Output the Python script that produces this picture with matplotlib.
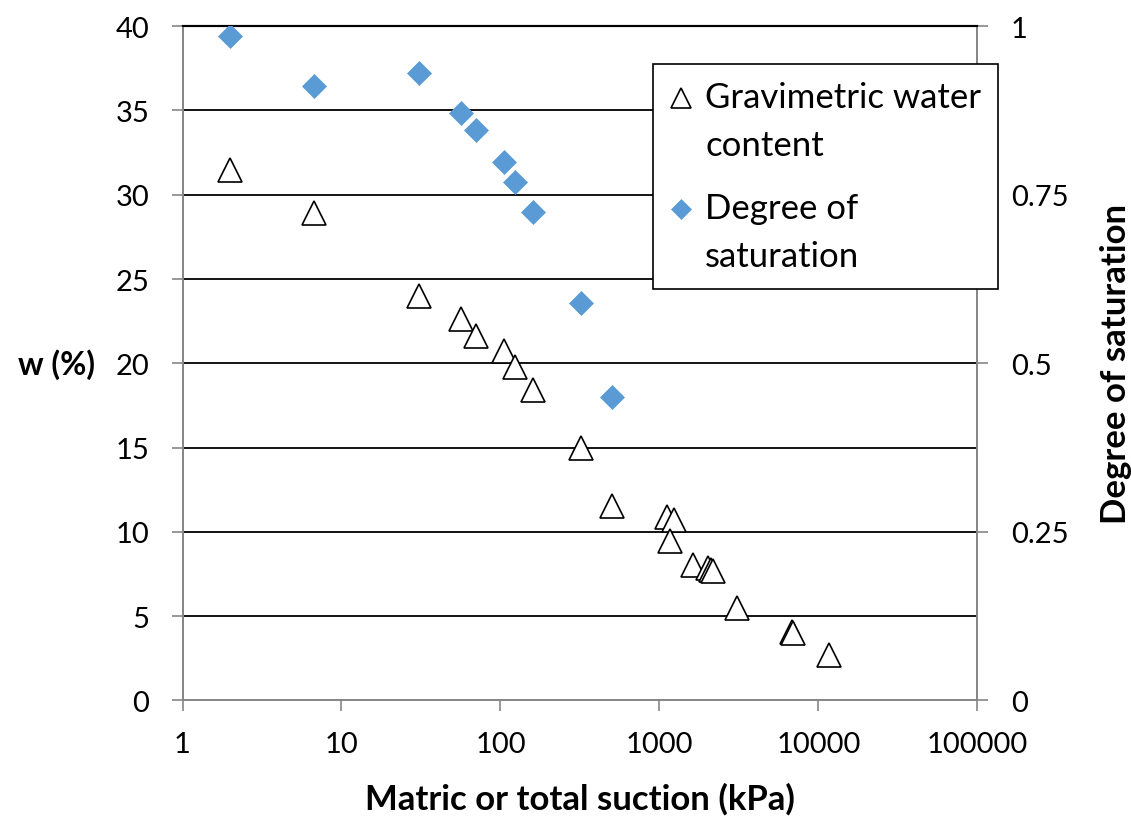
import matplotlib
matplotlib.use("Agg")
import matplotlib.pyplot as plt
from matplotlib.ticker import FixedLocator, FixedFormatter
from matplotlib.legend_handler import HandlerLine2D

plt.rcParams['font.family'] = ['Lato', 'DejaVu Sans']

# suction (kPa) and gravimetric water content (%)
suction_w = [2.0, 6.68, 30.9, 56.1, 70.0, 105, 124, 160, 319, 501,
             1121, 1241, 1171, 1621, 2032, 2104, 2175, 3082, 6808, 6934, 11743]
w = [31.46, 28.91, 24.01, 22.65, 21.64, 20.75, 19.75, 18.44, 14.99, 11.55,
     10.86, 10.68, 9.44, 8.06, 7.84, 7.72, 7.66, 5.47, 4.06, 3.99, 2.67]

# suction (kPa) and degree of saturation
suction_s = [2.0, 6.68, 30.9, 56.1, 70.0, 105, 124, 160, 319, 501]
sat = [0.986, 0.912, 0.930, 0.871, 0.846, 0.798, 0.769, 0.724, 0.589, 0.450]

x_ticks = [1, 10, 100, 1000, 10000, 100000]
x_labels = ['1', '10', '100', '1000', '10000', '100000']
w_ticks = [0, 5, 10, 15, 20, 25, 30, 35, 40]
s_ticks = [0, 0.25, 0.5, 0.75, 1]
s_labels = ['0', '0.25', '0.5', '0.75', '1']


class TopLineHandler(HandlerLine2D):
    # put the legend marker next to the first line of a two-line label
    def create_artists(self, legend, orig_handle, xdescent, ydescent,
                       width, height, fontsize, trans):
        arts = super().create_artists(legend, orig_handle, xdescent, ydescent,
                                      width, height, fontsize, trans)
        for a in arts:
            a.set_ydata([y + 17 for y in a.get_ydata()])
        return arts


fig = plt.figure(figsize=(11.31, 8.2), dpi=100)
ax = fig.add_axes([0.1614, 0.1447, 0.7027, 0.8221])
ax2 = ax.twinx()

gray = '#868686'

ax.set_xscale('log')
ax.set_xlim(1, 100000)
ax.set_ylim(0, 40)
ax2.set_ylim(0, 1)

for y in w_ticks[1:]:
    ax.axhline(y, color='black', lw=1.3, zorder=1)

l1, = ax.plot(suction_w, w, linestyle='none', marker='^', markersize=17,
              markerfacecolor='white', markeredgecolor='black',
              markeredgewidth=1.2, zorder=3, label='Gravimetric water\ncontent')
l2, = ax2.plot(suction_s, sat, linestyle='none', marker='D', markersize=12.2,
               markerfacecolor='#5b9bd5', markeredgecolor='#5b9bd5',
               markeredgewidth=0.5, zorder=3, label='Degree of\nsaturation')

ax.xaxis.set_major_locator(FixedLocator(x_ticks))
ax.xaxis.set_major_formatter(FixedFormatter(x_labels))
ax.xaxis.set_minor_locator(FixedLocator([]))
ax.set_yticks(w_ticks)
ax2.set_yticks(s_ticks)
ax2.set_yticklabels(s_labels)

for a in (ax, ax2):
    a.tick_params(axis='both', direction='out', length=8, width=1.2,
                  color=gray, labelsize=21)
    for side in ('left', 'right', 'bottom'):
        a.spines[side].set_color(gray)
        a.spines[side].set_linewidth(1.3)
    a.spines['top'].set_color('black')
    a.spines['top'].set_linewidth(1.5)
ax.tick_params(axis='x', pad=14)
ax.tick_params(axis='y', pad=16)
ax2.tick_params(axis='y', pad=16)

ax.set_xlabel('Matric or total suction (kPa)', fontsize=25, fontweight='bold', labelpad=18)
ax.set_ylabel('w (%)', fontsize=23, fontweight='bold', rotation=0,
              ha='center', va='center')
ax.yaxis.set_label_coords(-0.159, 0.5)
ax2.set_ylabel('Degree of saturation', fontsize=25, fontweight='bold', labelpad=23)

leg = fig.legend(handles=[l1, l2], loc='upper left',
                 bbox_to_anchor=(0.5774, 0.9207), bbox_transform=fig.transFigure,
                 fontsize=25, frameon=True, fancybox=False, framealpha=1,
                 edgecolor='black', borderaxespad=0, handlelength=0.6,
                 handletextpad=0.4, labelspacing=0.9, borderpad=0.5,
                 markerscale=0.85,
                 handler_map={l1: TopLineHandler(), l2: TopLineHandler()})
leg.get_frame().set_linewidth(1.2)
for t in leg.get_texts():
    t.set_linespacing(1.6)

fig.savefig('out.png', dpi=100)
